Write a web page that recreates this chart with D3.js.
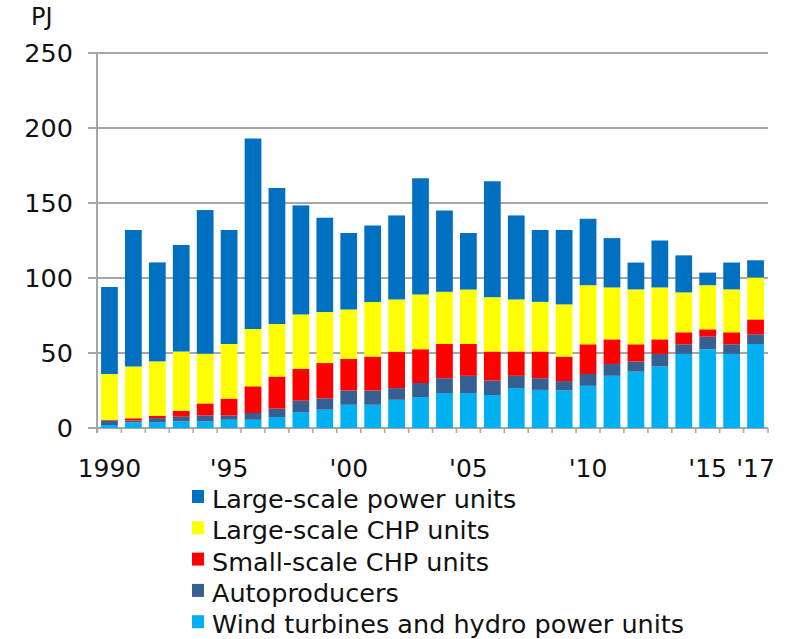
<!DOCTYPE html>
<html>
<head>
<meta charset="utf-8">
<script src="https://cdn.jsdelivr.net/npm/d3@7"></script>
<style>
  body { margin: 0; background: #fff; }
  text { font-family: "DejaVu Sans", Verdana, sans-serif; fill: #111; }
</style>
</head>
<body>
<div id="chart"></div>
<script>
// years shown on the x axis
const years = d3.range(1990, 2018);
const yearLabels = {1990: "1990", 1995: "'95", 2000: "'00", 2005: "'05", 2010: "'10", 2015: "'15", 2017: "'17"};

// PJ per year
const windHydro = [2, 3.7, 3.7, 4.5, 4.4, 5.5, 5.5, 7.3, 10.6, 12.2, 15.5, 15.5, 18.8, 20.6, 23.3, 23.3, 22, 26.6, 25.4, 25, 28.1, 34.8, 37.6, 41, 49.4, 52.5, 49.4, 56];
const autoproducers = [3, 1.3, 2.9, 3, 4, 2.9, 4.5, 5.6, 7.6, 7.6, 9.5, 9.5, 7.8, 9.4, 9.9, 11.5, 9.6, 8.2, 7.8, 6.3, 7.9, 7.9, 6.7, 8.4, 6.4, 8.4, 6.4, 6.5];
const smallChp = [0.5, 1.5, 1.6, 4, 8, 11.2, 17.8, 21.4, 21.3, 23.5, 21, 22.6, 24.3, 22.5, 22.8, 21.2, 19.4, 16.2, 17.8, 16.3, 19.8, 16.4, 11.5, 9.7, 8, 4.9, 8, 9.9];
const largeChp = [30.5, 34.5, 36.2, 39.5, 33.1, 36.4, 38.2, 35, 36.2, 34, 33, 36.4, 34.8, 36.5, 34.8, 36.3, 36.2, 34.7, 33.1, 34.8, 39.4, 34.6, 36.6, 34.6, 26.6, 29.4, 28.6, 27.9];
const largePower = [58, 91, 66, 71, 95.8, 76, 127, 90.7, 72.7, 62.9, 51, 51, 56, 77.5, 54.2, 37.7, 77.3, 56, 47.9, 49.6, 44.3, 32.9, 17.9, 31.3, 24.7, 8.4, 17.9, 11.5];

const seriesKeys = ["wind", "auto", "small", "lchp", "lpow"];
const seriesNames = {
    lpow: "Large-scale power units",
    lchp: "Large-scale CHP units",
    small: "Small-scale CHP units",
    auto: "Autoproducers",
    wind: "Wind turbines and hydro power units"
};
const colors = {
    lpow: "#0070c0",
    lchp: "#ffff00",
    small: "#ff0000",
    auto: "#376092",
    wind: "#00b0f0"
};
const yTicks = [0, 50, 100, 150, 200, 250];

const rows = years.map((yr, i) => ({
    year: yr,
    wind: windHydro[i],
    auto: autoproducers[i],
    small: smallChp[i],
    lchp: largeChp[i],
    lpow: largePower[i]
}));

const width = 803, height = 639;
const svg = d3.select("#chart").append("svg")
    .attr("width", width)
    .attr("height", height);

const x = d3.scaleBand()
    .domain(years)
    .range([97, 768])
    .paddingInner(0.3)
    .paddingOuter(0.17);

const y = d3.scaleLinear()
    .domain([0, 250])
    .range([428, 53]);

// gridlines
svg.append("g")
    .selectAll("line")
    .data(yTicks)
    .join("line")
    .attr("x1", 88)
    .attr("x2", 768)
    .attr("y1", d => y(d))
    .attr("y2", d => y(d))
    .attr("stroke", "#a6a6a6")
    .attr("stroke-width", 2);

// y axis line
svg.append("line")
    .attr("x1", 97).attr("x2", 97)
    .attr("y1", y(250)).attr("y2", y(0) + 5)
    .attr("stroke", "#a6a6a6")
    .attr("stroke-width", 2);

// x axis ticks at band edges
const step = x.step();
const edges = years.map(yr => x(yr) - (step - x.bandwidth()) / 2).concat([768]);
svg.append("g")
    .selectAll("line")
    .data(edges)
    .join("line")
    .attr("x1", d => d)
    .attr("x2", d => d)
    .attr("y1", y(0))
    .attr("y2", y(0) + 5)
    .attr("stroke", "#a6a6a6")
    .attr("stroke-width", 1.5);

// stacked bars
const stack = d3.stack().keys(seriesKeys);
const stacked = stack(rows);

svg.append("g")
    .selectAll("g")
    .data(stacked)
    .join("g")
    .attr("fill", d => colors[d.key])
    .selectAll("rect")
    .data(d => d)
    .join("rect")
    .attr("x", d => x(d.data.year))
    .attr("width", x.bandwidth())
    .attr("y", d => y(d[1]))
    .attr("height", d => y(d[0]) - y(d[1]));

// y tick labels
svg.append("g")
    .selectAll("text")
    .data(yTicks)
    .join("text")
    .attr("x", 73)
    .attr("y", d => y(d))
    .attr("dy", "0.36em")
    .attr("text-anchor", "end")
    .attr("font-size", 25.5)
    .text(d => d);

svg.append("text")
    .attr("x", 31)
    .attr("y", 25)
    .attr("font-size", 24)
    .text("PJ");

// x tick labels
svg.append("g")
    .selectAll("text")
    .data(years.filter(yr => yearLabels[yr]))
    .join("text")
    .attr("x", d => x(d) + x.bandwidth() / 2)
    .attr("y", 477)
    .attr("text-anchor", "middle")
    .attr("font-size", 25)
    .text(d => yearLabels[d]);

// legend
const legendOrder = ["lpow", "lchp", "small", "auto", "wind"];
const legend = svg.append("g")
    .selectAll("g")
    .data(legendOrder)
    .join("g")
    .attr("transform", (d, i) => `translate(192, ${508 + i * 31.3})`);

legend.append("rect")
    .attr("x", 0)
    .attr("y", -18)
    .attr("width", 12)
    .attr("height", 13)
    .attr("fill", d => colors[d]);

legend.append("text")
    .attr("x", 20)
    .attr("y", 0)
    .attr("font-size", 25.5)
    .text(d => seriesNames[d]);
</script>
</body>
</html>
